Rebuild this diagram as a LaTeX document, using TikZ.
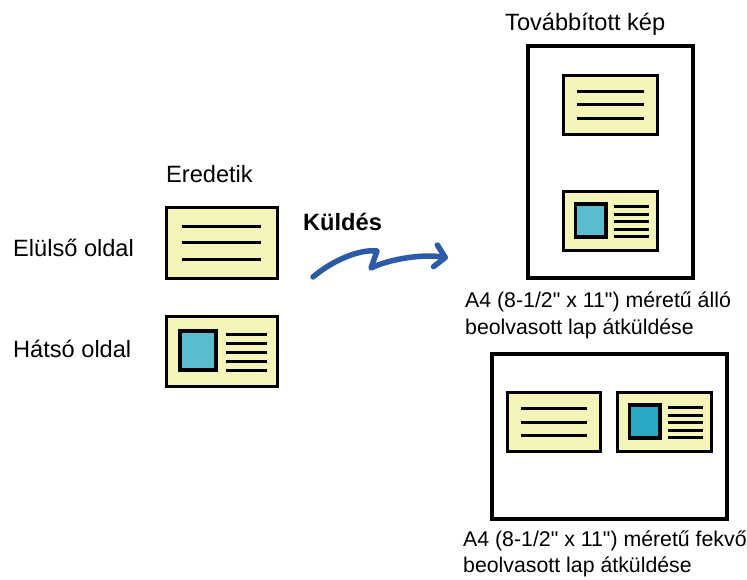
\documentclass[tikz,border=0pt]{standalone}
\usepackage{fontspec}
\setmainfont{Liberation Sans}
\newfontfamily\inchfont{Liberation Sans}
\usetikzlibrary{arrows.meta}
\definecolor{cardyellow}{HTML}{F5F5B9}
\definecolor{photoblue}{HTML}{5BBCD0}
\definecolor{photodark}{HTML}{2AA7C4}
\definecolor{sendblue}{HTML}{2B5BA8}
\newcommand{\inchmark}{{\inchfont"}}
\tikzset{
  pics/frontcard/.style={code={
    \draw[card] (-55.5,-35) rectangle (55.5,35);
    \foreach \y in {-16,0,16}
      \draw[textline] (-39.5,\y) -- (39.5,\y);
  }},
  pics/backcard/.style={code={
    \draw[card] (-55.5,-35) rectangle (55.5,35);
    \draw[photo, fill=#1] (-41.5,-20) rectangle (-5.5,19);
    \foreach \y in {-17,-8,1,10,19}
      \draw[textline] (4.5,\y) -- (45.5,\y);
  }},
  pics/backcard/.default=photoblue
}
\begin{document}
\begin{tikzpicture}[x=1pt, y=-1pt,
  card/.style={draw=black, fill=cardyellow, line width=3pt},
  textline/.style={draw=black, line width=3pt},
  photo/.style={draw=black, line width=3.5pt},
  page/.style={draw=black, fill=white, line width=4pt},
  txt/.style={font=\fontsize{23.6}{28}\selectfont, inner sep=0pt, anchor=base west},
  captext/.style={font=\fontsize{21.3}{27}\selectfont, inner sep=0pt, anchor=base west},
  sendarrow/.style={draw=sendblue, line width=5.5pt, line cap=round, line join=round,
    -{Straight Barb[length=10pt, width=22pt, round]}}]
\useasboundingbox (0,0) rectangle (747,580);
% originali
\node[txt] (eredetik) at (166,183) {Eredetik};
\node[txt] (elulso) at (13,257) {Elülső oldal};
\node[txt] (hatso) at (13,357) {Hátsó oldal};
\pic at (221.5,243) {frontcard};
\pic at (221.5,351) {backcard};
% freccia
\node[txt, font=\fontsize{23.6}{28}\selectfont\bfseries] (kuldes) at (303,231) {Küldés};
\coordinate (sendstart) at (313,277);
\coordinate (sendend) at (448,258);
\draw[sendarrow] (sendstart) .. controls (333,260) and (360,249) .. (377,251)
  -- (371,268) .. controls (392,258) and (425,254) .. (sendend);
% pagina verticale
\node[txt] (tovabbitott) at (505,31) {Továbbított kép};
\draw[page] (528,46) rectangle (693,278);
\pic[scale=0.84] at (610.5,105) {frontcard};
\pic[scale=0.84] at (610.5,221) {backcard};
\node[captext] (allo1) at (465,307) {A4 (8-1/2\inchmark{} x 11\inchmark) méretű álló};
\node[captext] (allo2) at (465,334) {beolvasott lap átküldése};
% pagina orizzontale
\draw[page] (492,354) rectangle (727,519);
\pic[scale=0.84] at (554,422) {frontcard};
\pic[scale=0.84] at (664.5,422) {backcard=photodark};
\node[captext] (fekvo1) at (463,546) {A4 (8-1/2\inchmark{} x 11\inchmark) méretű fekvő};
\node[captext] (fekvo2) at (463,572) {beolvasott lap átküldése};
\end{tikzpicture}
\end{document}
